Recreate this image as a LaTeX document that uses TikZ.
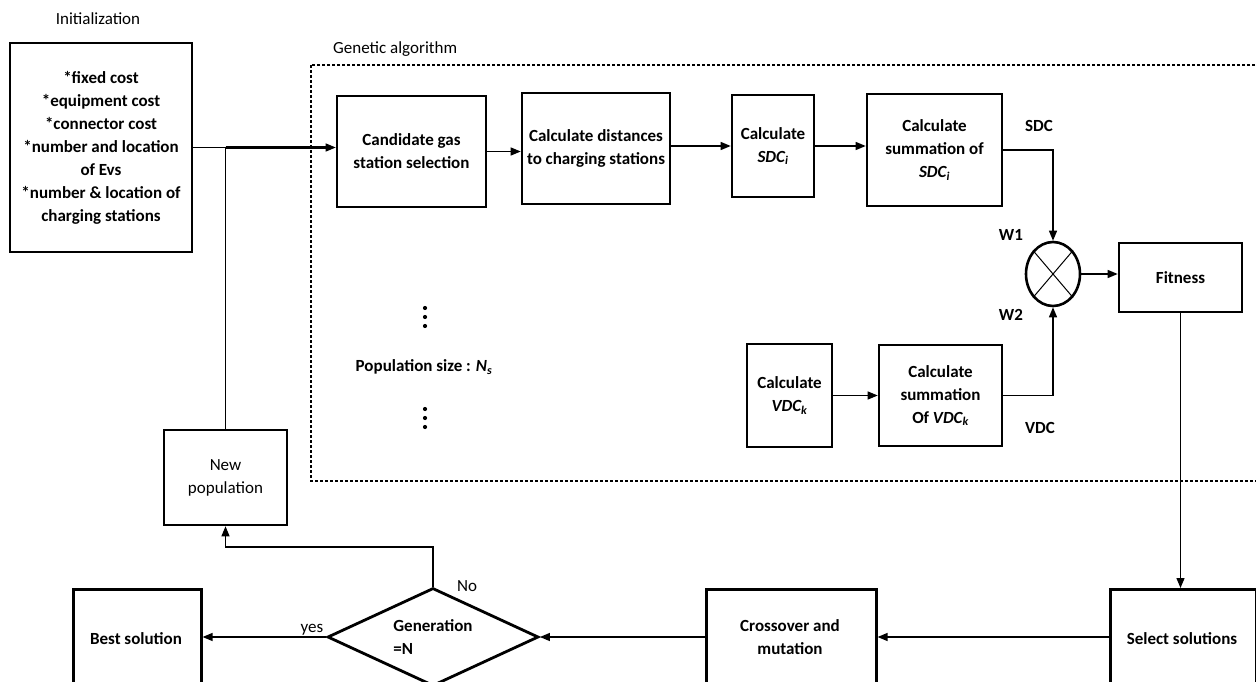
\documentclass[tikz,border=0pt]{standalone}
\usepackage{fontspec}
\setmainfont{Carlito}
\usetikzlibrary{arrows.meta,shapes.geometric,calc}
\begin{document}
\begin{tikzpicture}[x=1pt,y=-1pt,
  box/.style={draw,line width=2.6pt,align=center,font=\fontsize{17}{23}\selectfont\bfseries,inner sep=0pt},
  rbox/.style={draw,line width=2.6pt,inner sep=0pt,anchor=north west},
  lbl/.style={font=\fontsize{17}{23}\selectfont\bfseries,inner sep=0pt,align=center},
  plain/.style={font=\fontsize{17}{23}\selectfont,inner sep=0pt,align=center},
  conn/.style={line width=1.3pt,-{Triangle[length=10pt,width=8pt]}},
  wire/.style={line width=1.3pt},
  dot/.style={circle,fill,inner sep=0pt,minimum size=4.2pt},
]
\useasboundingbox (0,0) rectangle (1256,682);
\clip (0,0) rectangle (1256,682);

% titles
\node[plain] (tinit) at (98,19) {Initialization};
\node[plain,anchor=west] (tga) at (333,49) {Genetic algorithm};

% dashed frame
\draw[line width=1.6pt,dash pattern=on 3pt off 2pt] (311,65) rectangle (1262,481);

% init box
\node[box,minimum width=182,minimum height=209] (init) at (101,147.5)
 {*fixed cost\\*equipment cost\\*connector cost\\*number and location\\of Evs\\*number \& location of\\charging stations};

% GA upper row
\node[box,minimum width=149,minimum height=111] (cand) at (411.5,151.5) {Candidate gas\\station selection};
\node[box,minimum width=148,minimum height=111] (dist) at (596,148.5) {Calculate distances\\to charging stations};
\node[box,minimum width=82,minimum height=102] (sdci) at (773,146) {Calculate\\\textit{SDC\textsubscript{i}}};
\node[box,minimum width=135,minimum height=112] (sum) at (934.5,150) {Calculate\\summation of\\\textit{SDC\textsubscript{i}}};

% multiplier
\node[draw,ellipse,line width=2.6pt,minimum width=54,minimum height=64,inner sep=0pt] (circ) at (1053,274) {};
\draw[line width=1pt] (circ.north west) -- (circ.south east);
\draw[line width=1pt] (circ.north east) -- (circ.south west);

\node[box,minimum width=123,minimum height=69] (fit) at (1180.5,277.5) {Fitness};

% lower row in GA
\node[box,minimum width=85,minimum height=103] (vdck) at (789.5,395.5) {Calculate\\\textit{VDC\textsubscript{k}}};
\node[box,minimum width=123,minimum height=101] (vdcsum) at (940.5,395.5) {Calculate\\summation\\Of \textit{VDC\textsubscript{k}}};

% labels
\node[lbl] (lsdc) at (1039,126) {SDC};
\node[lbl] (lw1) at (1011,235) {W1};
\node[lbl] (lw2) at (1011,315) {W2};
\node[lbl] (lvdc) at (1040,428) {VDC};

% dots and population size
\node[dot] (d1) at (425,308) {};
\node[dot] (d2) at (425,317) {};
\node[dot] (d3) at (425,326) {};
\node[dot] (d4) at (425,409) {};
\node[dot] (d5) at (425,418) {};
\node[dot] (d6) at (425,427) {};
\node[lbl] (pop) at (424,367) {Population size : \textit{N\textsubscript{s}}};

% new population
\node[draw,line width=2.6pt,minimum width=123,minimum height=95,inner sep=0pt,plain] (newpop) at (225.5,477.5) {New\\population};

% bottom row
\node[draw,diamond,line width=2.8pt,minimum width=211,minimum height=98,inner sep=0pt] (dia) at (433,637) {};
\node[lbl,align=left] (diatxt) at (433,637) {Generation\\=N};

\node[rbox,minimum width=128,minimum height=140] (best) at (72,588) {};
\node[lbl] (besttxt) at (136,639) {Best solution};
\node[rbox,minimum width=170,minimum height=140] (cross) at (705,588) {};
\node[lbl] (crosstxt) at (790,637) {Crossover and\\mutation};
\node[rbox,minimum width=146,minimum height=140] (sel) at (1109,588) {};
\node[lbl] (seltxt) at (1182,639) {Select solutions};

\node[plain] (lno) at (467,586) {No};
\node[plain] (lyes) at (312,630) {yes};

% connectors
\draw[conn] (init.east) -- (init.east -| cand.west);
\coordinate (junc) at (init.east -| newpop.north);
\draw[wire] (newpop.north) -- (junc);
\draw[line width=2.2pt] (junc) -- ($(init.east -| cand.west)+(-8,0)$);
\draw[conn] (cand.east) -- (cand.east -| dist.west);
\draw[conn] (sdci.west -| dist.east) -- (sdci.west);
\draw[conn] (sdci.east) -- (sdci.east -| sum.west);
\draw[conn] (sum.east) -| (circ.north);
\draw[conn] (vdck.east) -- (vdck.east -| vdcsum.west);
\draw[conn] (vdcsum.east) -| (circ.south);
\draw[conn] (circ.east) -- (circ.east -| fit.west);
\draw[conn] (fit.south) -- (fit.south |- sel.north);
\draw[conn] (dia.east -| sel.west) -- (dia.east -| cross.east);
\draw[conn] (dia.east -| cross.west) -- (dia.east);
\draw[conn] (dia.west) -- (dia.west -| best.east);
\coordinate (bend) at (newpop.south |- 0,547);
\draw[conn] (dia.north) |- (bend) -- (newpop.south);
\end{tikzpicture}
\end{document}
